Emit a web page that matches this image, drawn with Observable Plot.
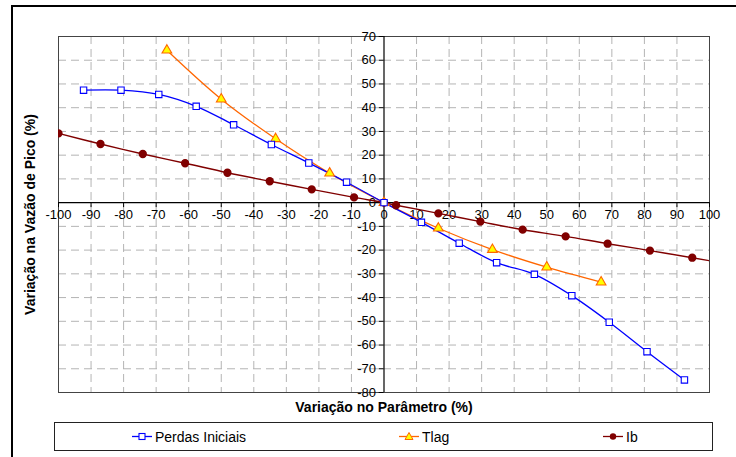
<!DOCTYPE html>
<html>
<head>
<meta charset="utf-8">
<script src="https://cdn.jsdelivr.net/npm/d3@7"></script>
<script src="https://cdn.jsdelivr.net/npm/@observablehq/plot@0.6"></script>
<style>
  html, body { margin: 0; padding: 0; background: #fff; overflow: hidden; }
  #wrap { position: relative; width: 736px; height: 457px; overflow: hidden; font-family: "Liberation Sans", Arial, sans-serif; }
  #border { position: absolute; left: 11px; top: 5px; width: 800px; height: 600px; border: 2px solid #000; box-sizing: border-box; pointer-events: none; }
  #legend { position: absolute; left: 54px; top: 422px; width: 659px; height: 29px; border: 1px solid #222; box-sizing: border-box; background: #fff; }
  .item { position: absolute; top: 0; height: 27px; display: flex; align-items: center; font-size: 14px; color: #000; }
  .item svg { margin-right: 3px; }
</style>
</head>
<body>
<div id="wrap">
  <div id="chart"></div>
  <div id="border"></div>
  <div id="legend"></div>
</div>
<script>
// ---- data ----
const perdasX = [-92.3, -80.8, -69.2, -57.7, -46.2, -34.6, -23.1, -11.5, 0, 11.5, 23.1, 34.6, 46.2, 57.7, 69.2, 80.8, 92.3];
const perdasY = [47.4, 47.4, 45.6, 40.6, 32.8, 24.5, 16.7, 8.6, 0, -8.3, -17.1, -25.3, -30.2, -39.2, -50.4, -62.8, -74.7];

const tlagX = [-66.7, -50, -33.3, -16.7, 0, 16.7, 33.3, 50, 66.7];
const tlagY = [64.2, 43.6, 26.9, 12.4, 0, -10.8, -19.8, -27.2, -33.5];

const ibX = [-100, -87.1, -74.1, -61.1, -48.1, -35.1, -22.2, -9.2, 0, 3.7, 16.7, 29.6, 42.6, 55.8, 68.7, 81.7, 94.7, 107.6];
const ibY = [29.2, 24.7, 20.5, 16.6, 12.6, 9.0, 5.6, 2.2, 0, -1.1, -4.5, -8.0, -11.4, -14.2, -17.3, -20.2, -23.2, -26.3];

const xTicks = [-100, -90, -80, -70, -60, -50, -40, -30, -20, -10, 0, 10, 20, 30, 40, 50, 60, 70, 80, 90, 100];
const yTicks = [-80, -70, -60, -50, -40, -30, -20, -10, 0, 10, 20, 30, 40, 50, 60, 70];

const seriesNames = ["Perdas Iniciais", "Tlag", "Ib"];
const xTitle = "Variação no Parâmetro (%)";
const yTitle = "Variação na Vazão de Pico (%)";

// ---- build ----
const perdas = perdasX.map((x, i) => ({x, y: perdasY[i]}));
const tlag = tlagX.map((x, i) => ({x, y: tlagY[i]}));
const ib = ibX.map((x, i) => ({x, y: ibY[i]}));

const blue = "#0000ff", orange = "#ff6600", yellow = "#ffff00", maroon = "#800000";

const chart = Plot.plot({
  width: 736,
  height: 457,
  marginLeft: 58,
  marginRight: 27,
  marginTop: 36,
  marginBottom: 65,
  x: {domain: [-100, 100], axis: null},
  y: {domain: [-80, 70], axis: null},
  style: {fontFamily: "'Liberation Sans', Arial, sans-serif", fontSize: "13px", background: "#fff", color: "#000"},
  marks: [
    Plot.gridX(xTicks.filter(d => d !== 0), {stroke: "#b4b4b4", strokeOpacity: 1, strokeDasharray: "8,5"}),
    Plot.gridY(yTicks.filter(d => d !== 0), {stroke: "#b4b4b4", strokeOpacity: 1, strokeDasharray: "8,5"}),
    Plot.frame({stroke: "#444"}),
    Plot.ruleY([0], {stroke: "#000", strokeWidth: 1.2}),
    Plot.ruleX([0], {stroke: "#000", strokeWidth: 1.2}),
    Plot.ruleX(xTicks, {x: d => d, y1: 0, y2: -2.1, stroke: "#000"}),
    Plot.ruleY(yTicks, {y: d => d, x1: -1.5, x2: 0, stroke: "#000"}),
    Plot.text(xTicks, {x: d => d, y: 0, dy: 12, text: d => String(d), fill: "#000"}),
    Plot.text(yTicks, {x: 0, y: d => d, dx: -8, text: d => String(d), textAnchor: "end", fill: "#000"}),
    Plot.line(ib, {x: "x", y: "y", stroke: maroon, strokeWidth: 1.4, curve: "catmull-rom", clip: true}),
    Plot.line(tlag, {x: "x", y: "y", stroke: orange, strokeWidth: 1.3, curve: "catmull-rom"}),
    Plot.line(perdas, {x: "x", y: "y", stroke: blue, strokeWidth: 1.3, curve: "catmull-rom"}),
    Plot.dot(ib, {x: "x", y: "y", r: 3.4, fill: maroon, stroke: maroon, clip: true}),
    Plot.dot(tlag, {x: "x", y: "y", symbol: "triangle", r: 3.6, fill: yellow, stroke: orange, strokeWidth: 1.1}),
    Plot.dot(perdas, {x: "x", y: "y", symbol: "square", r: 3.6, fill: "#fff", stroke: blue, strokeWidth: 1.1}),
    Plot.text([xTitle], {frameAnchor: "bottom", dy: 19, text: d => d, textAnchor: "middle", fontWeight: "bold", fontSize: 14, fill: "#000"}),
    Plot.text([yTitle], {frameAnchor: "left", dx: -28, rotate: -90, text: d => d, textAnchor: "middle", fontWeight: "bold", fontSize: 14, fill: "#000"})
  ]
});
document.getElementById("chart").appendChild(chart);

// ---- legend ----
const legend = document.getElementById("legend");
const legendDefs = [
  {name: seriesNames[0], left: 77, marker: `<rect x="7" y="3.5" width="6" height="6" fill="#fff" stroke="${blue}" stroke-width="1.1"/>`, color: blue},
  {name: seriesNames[1], left: 344, marker: `<path d="M10,2.5 L14,9.5 L6,9.5 Z" fill="${yellow}" stroke="${orange}" stroke-width="1"/>`, color: orange},
  {name: seriesNames[2], left: 548, marker: `<circle cx="10" cy="6.5" r="3.2" fill="${maroon}"/>`, color: maroon}
];
legendDefs.forEach(d => {
  const div = document.createElement("div");
  div.className = "item";
  div.style.left = d.left + "px";
  div.innerHTML = `<svg width="20" height="13"><line x1="0" x2="20" y1="6.5" y2="6.5" stroke="${d.color}" stroke-width="1.3"/>${d.marker}</svg><span>${d.name}</span>`;
  legend.appendChild(div);
});
</script>
</body>
</html>
